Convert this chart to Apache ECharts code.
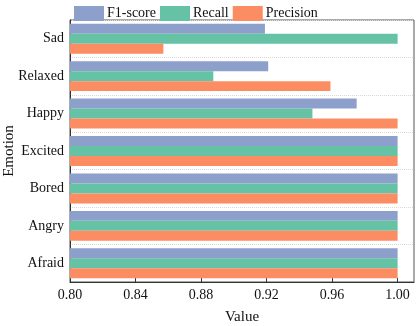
<!DOCTYPE html>
<html><head><meta charset="utf-8">
<script src="https://cdn.jsdelivr.net/npm/echarts@6/dist/echarts.min.js"></script>
<style>html,body{margin:0;padding:0;background:#fff}#c{width:416px;height:326px}</style>
</head><body><div id="c"></div>
<script>
const categories = ['Afraid','Angry','Bored','Excited','Happy','Relaxed','Sad'];
const f1Score = [1.0, 1.0, 1.0, 1.0, 0.975, 0.921, 0.919];
const recall = [1.0, 1.0, 1.0, 1.0, 0.948, 0.8875, 1.0];
const precision = [1.0, 1.0, 1.0, 1.0, 1.0, 0.959, 0.857];
const xTicks = [0.80, 0.84, 0.88, 0.92, 0.96, 1.00];

const font = '"Liberation Serif", "Times New Roman", serif';
const chart = echarts.init(document.getElementById('c'));
chart.setOption({
  animation: false,
  textStyle: {fontFamily: font},
  legend: {
    data: ['F1-score','Recall','Precision'],
    left: 69, top: 1, itemWidth: 30, itemHeight: 15, itemGap: 4,
    icon: 'rect',
    textStyle: {fontFamily: font, fontSize: 14, color: '#111', padding: [0,0,0,-2]}
  },
  grid: {left: 70, right: 2, top: 20, bottom: 44, show: true, borderColor: '#555', borderWidth: 1,
    containLabel: false, outerBoundsMode: 'none'},
  xAxis: {
    type: 'value', min: 0.8, max: 1.01, interval: 0.04,
    name: 'Value', nameLocation: 'middle', nameGap: 28, nameMoveOverlap: false,
    nameTextStyle: {fontFamily: font, fontSize: 15, color: '#111'},
    axisLine: {show: true, lineStyle: {color: '#333'}},
    axisTick: {show: true, inside: true, length: 4, lineStyle: {color: '#333'}},
    axisLabel: {fontFamily: font, fontSize: 14, color: '#111', margin: 6,
      formatter: v => (v > 1.0001 ? '' : v.toFixed(2)), showMaxLabel: false},
    splitLine: {show: false}
  },
  yAxis: {
    type: 'category', data: categories,
    name: 'Emotion', nameLocation: 'middle', nameGap: 53, nameMoveOverlap: false,
    nameTextStyle: {fontFamily: font, fontSize: 15, color: '#111'},
    axisLine: {show: true, lineStyle: {color: '#333'}},
    axisTick: {show: true, inside: true, alignWithLabel: true, length: 4, lineStyle: {color: '#333'}},
    axisLabel: {fontFamily: font, fontSize: 14, color: '#111', margin: 6},
    splitLine: {show: true, lineStyle: {color: '#d8d8d8', type: 'dotted'}}
  },
  series: [
    {name: 'F1-score', type: 'bar', data: f1Score, itemStyle: {color: '#8da0cb'}, barGap: '0%', barCategoryGap: '20%'},
    {name: 'Recall', type: 'bar', data: recall, itemStyle: {color: '#66c2a5'}, barGap: '0%', barCategoryGap: '20%'},
    {name: 'Precision', type: 'bar', data: precision, itemStyle: {color: '#fc8d62'}, barGap: '0%', barCategoryGap: '20%'}
  ]
});
</script></body></html>
